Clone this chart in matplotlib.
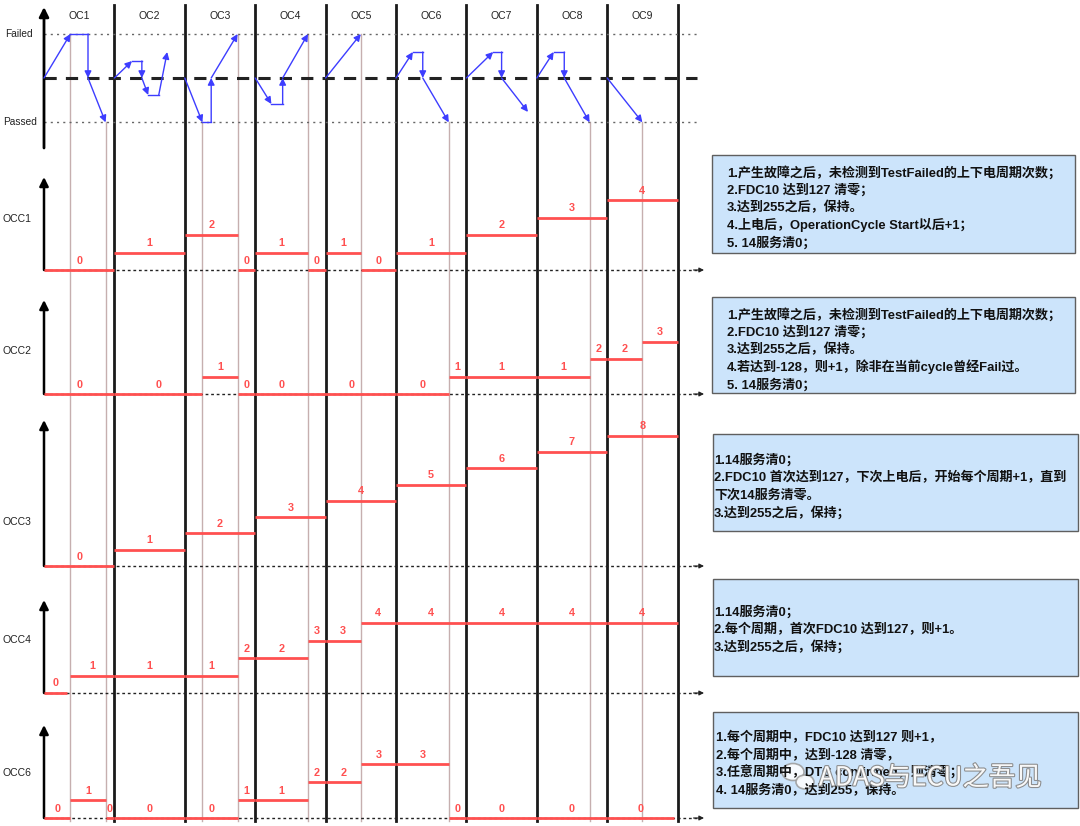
import matplotlib
matplotlib.use("Agg")
import matplotlib.pyplot as plt
from matplotlib.patches import Rectangle, Ellipse
import matplotlib.patheffects as pe

plt.rcParams['font.family'] = ['Liberation Sans', 'Noto Sans CJK SC', 'DejaVu Sans']

W, H = 1080, 826
X0, STEP = 44, 70.4          # pixel of t=0 and width of one operation cycle
T0, T1 = -X0 / STEP, (W - X0) / STEP

BLUE = '#3d3dff'
RED = '#ff5050'
THIN = '#c6afaf'

# ---- data ----
cycles = ['OC1', 'OC2', 'OC3', 'OC4', 'OC5', 'OC6', 'OC7', 'OC8', 'OC9']

FAILED, PASSED = 127, -128
# moments where the test result becomes Failed / Passed (in cycles)
event_t = [0.375, 0.875, 2.25, 2.75, 3.75, 4.5, 5.75, 7.75, 8.5]
event_state = [FAILED, PASSED, PASSED, FAILED, FAILED, FAILED, PASSED, PASSED, PASSED]

# FDC trajectory inside each cycle (t, fdc)
fdc_paths = [
    [(0, 0), (0.375, 127), (0.625, 127), (0.625, 0), (0.875, -128)],
    [(1, 0), (1.25, 49), (1.39, 49), (1.39, 0), (1.48, -49), (1.63, -49), (1.75, 75)],
    [(2, 0), (2.25, -128), (2.375, -128), (2.375, 0), (2.75, 127)],
    [(3, 0), (3.23, -75), (3.39, -75), (3.39, 0), (3.75, 127)],
    [(4, 0), (4.5, 127)],
    [(5, 0), (5.24, 75), (5.38, 75), (5.38, 0), (5.75, -128)],
    [(6, 0), (6.38, 75), (6.5, 75), (6.5, 0), (6.875, -98)],
    [(7, 0), (7.24, 75), (7.39, 75), (7.39, 0), (7.75, -128)],
    [(8, 0), (8.5, -128)],
]

# counter values: (t_start, t_end, value)
occ1 = [(0, 1, 0), (1, 2, 1), (2, 2.75, 2), (2.75, 3, 0), (3, 3.75, 1), (3.75, 4, 0),
        (4, 4.5, 1), (4.5, 5, 0), (5, 6, 1), (6, 7, 2), (7, 8, 3), (8, 9, 4)]
occ2 = [(0, 1, 0), (1, 2.25, 0), (2.25, 2.75, 1), (2.75, 3, 0), (3, 3.75, 0), (3.75, 5, 0),
        (5, 5.75, 0), (5.75, 6, 1), (6, 7, 1), (7, 7.75, 1), (7.75, 8, 2), (8, 8.5, 2),
        (8.5, 9, 3)]
occ3 = [(0, 1, 0), (1, 2, 1), (2, 3, 2), (3, 4, 3), (4, 5, 4), (5, 6, 5), (6, 7, 6),
        (7, 8, 7), (8, 9, 8)]
occ4 = [(0, 0.33, 0), (0.375, 1, 1), (1, 2, 1), (2, 2.75, 1), (2.75, 3, 2), (3, 3.75, 2),
        (3.75, 4, 3), (4, 4.5, 3), (4.5, 5, 4), (5, 6, 4), (6, 7, 4), (7, 8, 4), (8, 9, 4)]
occ6 = [(0, 0.375, 0), (0.375, 0.875, 1), (0.875, 1, 0), (1, 2, 0), (2, 2.75, 0),
        (2.75, 3, 1), (3, 3.75, 1), (3.75, 4, 2), (4, 4.5, 2), (4.5, 5, 3), (5, 5.75, 3),
        (5.75, 6, 0), (6, 7, 0), (7, 8, 0), (8, 8.95, 0)]

occ_names = ['OCC1', 'OCC2', 'OCC3', 'OCC4', 'OCC6']
occ_data = [occ1, occ2, occ3, occ4, occ6]

notes = [
    "1.产生故障之后，未检测到TestFailed的上下电周期次数；\n2.FDC10 达到127 清零；\n"
    "3.达到255之后，保持。\n4.上电后，OperationCycle Start以后+1；\n5. 14服务清0；",
    "1.产生故障之后，未检测到TestFailed的上下电周期次数；\n2.FDC10 达到127 清零；\n"
    "3.达到255之后，保持。\n4.若达到-128，则+1，除非在当前cycle曾经Fail过。\n5. 14服务清0；",
    "1.14服务清0；\n2.FDC10 首次达到127，下次上电后，开始每个周期+1，直到\n"
    "下次14服务清零。\n3.达到255之后，保持；",
    "1.14服务清0；\n2.每个周期，首次FDC10 达到127，则+1。\n3.达到255之后，保持；",
    "1.每个周期中，FDC10 达到127 则+1，\n2.每个周期中，达到-128 清零，\n"
    "3.任意周期中，DTC confirmed，则清零；\n4. 14服务清0，达到255，保持。",
]

# ---- layout (pixels) ----
# row: baseline, px per count, arrow top, label y
occ_layout = [(270, 17.5, 177, 219), (394, 17.5, 300, 351), (566, 16.3, 420, 522),
              (693, 17.5, 600, 640), (818, 18.0, 725, 773)]
# note boxes: left, top, right, bottom, text x, first line y
box_layout = [(712, 155, 1075, 253, 727, 172), (712, 297, 1075, 393, 727, 314),
              (713, 434, 1078, 531, 714, 459), (713, 579, 1078, 676, 714, 611),
              (713, 712, 1078, 808, 716, 737)]
STATE_BASE, STATE_UNIT = 78, 44 / 127
LINE_END = (697 - X0) / STEP
ARROW_END = (704 - X0) / STEP

fig = plt.figure(figsize=(W / 100, H / 100), dpi=100)
fig.patch.set_facecolor('white')


def row_axes(base, unit, top, bot):
    ax = fig.add_axes([0, 1 - bot / H, 1, (bot - top) / H])
    ax.set_xlim(T0, T1)
    ax.set_ylim((base - bot) / unit, (base - top) / unit)
    ax.axis('off')
    ax.patch.set_alpha(0)
    return ax


def arrow(ax, p0, p1, color, lw=1.0, ms=10):
    ax.annotate('', xy=p1, xytext=p0,
                arrowprops=dict(arrowstyle='-|>', color=color, lw=lw, mutation_scale=ms,
                                shrinkA=0, shrinkB=0), annotation_clip=False)


# background: cycle boundaries and test-result events
bg = fig.add_axes([0, 0, 1, 1])
bg.set_xlim(T0, T1)
bg.set_ylim(H, 0)
bg.axis('off')
for k in range(1, len(cycles) + 1):
    bg.plot([k, k], [5, 821], color='#1a1a1a', lw=2)
for t, s in zip(event_t, event_state):
    bg.plot([t, t], [STATE_BASE - s * STATE_UNIT, 821], color=THIN, lw=1)

# top row: test state
top = row_axes(STATE_BASE, STATE_UNIT, 0, 150)
vs = lambda y: (STATE_BASE - y) / STATE_UNIT
arrow(top, (0, vs(148)), (0, vs(7)), 'black', lw=2, ms=14)
for lvl in (FAILED, PASSED):
    top.plot([0, LINE_END], [lvl, lvl], color='#666666', lw=1, ls=(0, (1.5, 3)))
top.plot([0, LINE_END], [0, 0], color='#222222', lw=2.2, ls=(0, (4, 3)))
top.text((33 - X0) / STEP, FAILED, 'Failed', ha='right', va='center', fontsize=7.3,
         color='#222')
top.text((37 - X0) / STEP, PASSED, 'Passed', ha='right', va='center', fontsize=7.3,
         color='#222')
for k, name in enumerate(cycles):
    top.text(k + 0.5, vs(16), name, ha='center', va='center', fontsize=7.5, color='#222')
for path in fdc_paths:
    for (t0, v0), (t1, v1) in zip(path[:-1], path[1:]):
        if v0 == v1:
            top.plot([t0, t1], [v0, v1], color=BLUE, lw=1)
        else:
            arrow(top, (t0, v0), (t1, v1), BLUE, lw=1, ms=10)

# counter rows
for name, segs, (base, unit, atop, ly) in zip(occ_names, occ_data, occ_layout):
    ax = row_axes(base, unit, atop - 15, base + 8)
    arrow(ax, (0, 0), (0, (base - atop) / unit), 'black', lw=1.8, ms=13)
    ax.plot([0, LINE_END], [0, 0], color='#222', lw=1, ls=(0, (2, 2)))
    arrow(ax, (LINE_END - 0.05, 0), (ARROW_END, 0), '#222', lw=0.8, ms=7)
    ax.text((17 - X0) / STEP, (base - ly) / unit, name, ha='center', va='center',
            fontsize=7.5, color='#222')
    for t0, t1, v in segs:
        ax.plot([t0, t1], [v, v], color=RED, lw=2, solid_capstyle='butt', zorder=3)
        ax.text((t0 + t1) / 2, v + 9.5 / unit, str(v), ha='center', va='center',
                fontsize=7.8, color=RED, fontweight='bold')

# note boxes
for txt, (l, t, r, b, tx, ty) in zip(notes, box_layout):
    fig.add_artist(Rectangle((l / W, 1 - b / H), (r - l) / W, (b - t) / H,
                             transform=fig.transFigure, facecolor='#cce4fb',
                             edgecolor='#5f5f5f', lw=1))
    for i, line in enumerate(txt.split('\n')):
        fig.text(tx / W, 1 - (ty + 4.5 + i * 17.6) / H, line, ha='left', va='baseline',
                 fontsize=9.4, fontweight='bold', color='#111')

# watermark (as in the source image)
for cx, cy, w, h in [(793, 772, 22, 17), (805, 782, 18, 14)]:
    fig.add_artist(Ellipse((cx / W, 1 - cy / H), w / W, h / H, transform=fig.transFigure,
                           facecolor='white', edgecolor='#9a9a9a', lw=1.2, alpha=0.85))
fig.text(930 / W, 1 - 778 / H, 'ADAS与ECU之吾见', ha='center', va='center', fontsize=19,
         color='white', family=['Noto Sans CJK SC', 'DejaVu Sans'], alpha=0.95,
         path_effects=[pe.withStroke(linewidth=1.6, foreground='#8a8a8a')])

fig.savefig('out.png', dpi=100, facecolor='white')
